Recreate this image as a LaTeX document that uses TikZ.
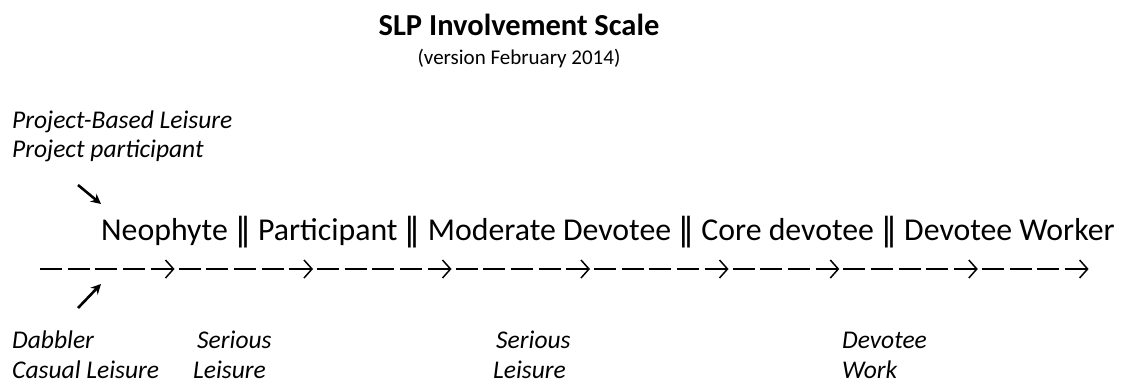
\documentclass[tikz,border=0pt]{standalone}
\usepackage{fontspec}
\setmainfont{Carlito}
\newfontfamily\symfont{DejaVu Sans}
\usetikzlibrary{arrows.meta}
\begin{document}
\begin{tikzpicture}[x=1pt,y=-1pt,
  lbl/.style={inner sep=0pt,anchor=base west,font=\fontsize{25.5}{30}\selectfont\itshape},
  mainline/.style={inner sep=0pt,anchor=base west,font=\fontsize{31.8}{36}\selectfont},
  dashseg/.style={line width=1.5pt},
  chev/.style={line width=1.5pt,line join=miter},
  bigarrow/.style={line width=2.6pt,-{Stealth[length=10pt,width=10pt]}}]
\useasboundingbox (0,0) rectangle (1128,383);
% title
\node[inner sep=0pt,anchor=base,font=\fontsize{30.5}{34}\selectfont\bfseries] (title) at (519,35) {SLP Involvement Scale};
\node[inner sep=0pt,anchor=base,font=\fontsize{21}{25}\selectfont] (sub) at (519,64) {(version February 2014)};
% top labels
\node[lbl] (pbl) at (12,128) {Project-Based Leisure};
\node[lbl] (pp) at (12,157) {Project participant};
% main stages
\node[mainline] (stages) at (101,240) {Neophyte {\symfont‖} Participant {\symfont‖} Moderate Devotee {\symfont‖} Core devotee {\symfont‖} Devotee Worker};
% dashed progression line
\def\p{27.7}
\foreach \i in {0,...,37}{
  \draw[dashseg] ({38+\i*\p+2},269) -- ({38+\i*\p+24},269);
}
\foreach \i in {4,9,14,19,24,28,33,37}{
  \draw[dashseg] ({38+\i*\p+20},269) -- ({38+\i*\p+\p-3},269);
  \draw[chev] ({38+\i*\p+\p-11},260) -- ({38+\i*\p+\p-3},269) -- ({38+\i*\p+\p-11},278);
}
% bold arrows
\coordinate (ta) at (78,185);
\coordinate (tb) at (101,204);
\coordinate (ba) at (78,308);
\coordinate (bb) at (101,284);
\draw[bigarrow] (ta) -- (tb);
\draw[bigarrow] (ba) -- (bb);
% bottom labels
\node[lbl] (dab) at (12,348) {Dabbler};
\node[lbl] (cas) at (12,378) {Casual Leisure};
\node[lbl] (s1) at (197,348) {Serious};
\node[lbl] (l1) at (193,378) {Leisure};
\node[lbl] (s2) at (496,348) {Serious};
\node[lbl] (l2) at (493,378) {Leisure};
\node[lbl] (dv) at (842,348) {Devotee};
\node[lbl] (wk) at (842,378) {Work};
\end{tikzpicture}
\end{document}
